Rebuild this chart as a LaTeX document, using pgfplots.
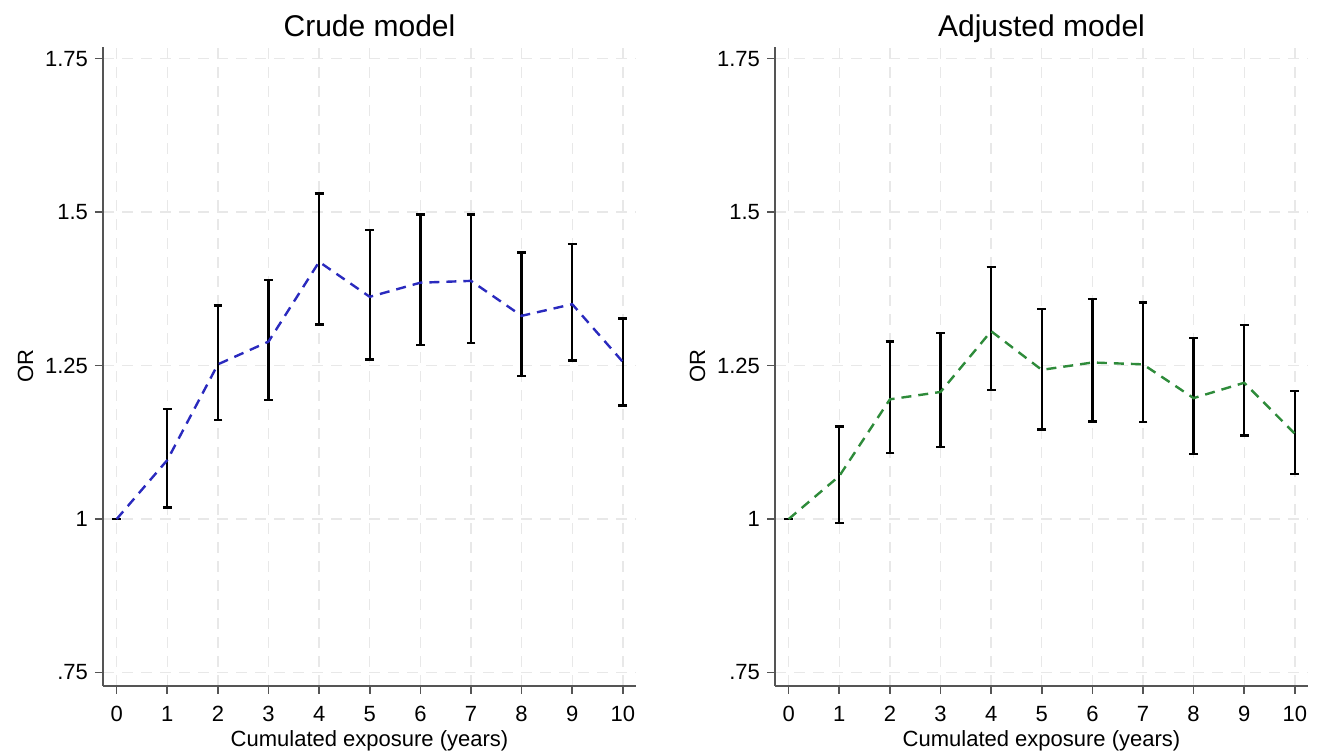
\documentclass[border=0pt]{standalone}
\usepackage{fontspec}
\setmainfont{Liberation Sans}
\usepackage{pgfplots}
\usepackage{pgfplotstable}
\pgfplotsset{compat=1.18}

% odds ratios with 95% CI
\pgfplotstableread{
x  y     lo    hi
0  1.000 1.000 1.000
1  1.096 1.019 1.179
2  1.252 1.161 1.348
3  1.289 1.194 1.389
4  1.419 1.317 1.530
5  1.362 1.260 1.471
6  1.385 1.284 1.496
7  1.388 1.287 1.496
8  1.331 1.233 1.434
9  1.350 1.258 1.448
10 1.256 1.185 1.327
}\crude

\pgfplotstableread{
x  y     lo    hi
0  1.000 1.000 1.000
1  1.070 0.994 1.151
2  1.195 1.108 1.289
3  1.207 1.117 1.303
4  1.306 1.210 1.411
5  1.243 1.146 1.342
6  1.255 1.159 1.358
7  1.252 1.158 1.353
8  1.197 1.106 1.295
9  1.222 1.136 1.316
10 1.139 1.073 1.209
}\adjusted

\definecolor{spine}{HTML}{555555}
\definecolor{crudeblue}{HTML}{2A2ABE}
\definecolor{adjgreen}{HTML}{2E8B3A}

\pgfplotsset{
  orpanel/.style={
    scale only axis, width=266.5pt, height=319.5pt,
    anchor=south west,
    xmin=-0.27, xmax=10.26, ymin=0.728, ymax=1.769,
    axis x line*=bottom, axis y line*=left,
    axis line style={spine, line width=0.8pt},
    xtick={0,...,10},
    ytick={0.75,1,1.25,1.5,1.75},
    yticklabels={.75,1,1.25,1.5,1.75},
    tick align=outside, major tick length=4pt,
    tick style={spine, line width=0.8pt},
    /pgf/number format/assume math mode=true,
    ticklabel style={font=\fontsize{11}{13}\selectfont},
    xticklabel style={anchor=base, yshift=-14pt},
    label style={font=\fontsize{11}{13}\selectfont},
    title style={font=\fontsize{15}{18}\selectfont, text depth=0pt, yshift=-4.5pt},
    xlabel={Cumulated exposure (years)},
    ylabel={OR},
    xlabel style={at={(axis description cs:0.5,0)}, anchor=base, yshift=-30.5pt},
    ylabel style={yshift=-1pt},
    grid=major,
    grid style={gray!18, line width=0.7pt, dash pattern=on 5.5pt off 4pt},
    clip=false,
  },
  cibars/.style={
    draw=none, mark=none, forget plot,
    error bars/.cd, y dir=both, y explicit,
    error bar style={solid, black, line width=1.2pt},
    error mark options={black, line width=1.2pt, mark size=2.2pt, rotate=90},
  },
}

\begin{document}
\begin{tikzpicture}
\useasboundingbox (0,0) rectangle (659pt,377pt);

\begin{axis}[orpanel, at={(51.5pt,34pt)}, title={Crude model}]
  \addplot[cibars] table[x=x, y=y,
    y error plus expr=\thisrow{hi}-\thisrow{y},
    y error minus expr=\thisrow{y}-\thisrow{lo}] {\crude};
  \addplot[crudeblue, line width=1.2pt, dash pattern=on 5pt off 3.5pt, mark=none] table[x=x, y=y] {\crude};
\end{axis}

\begin{axis}[orpanel, at={(387.5pt,34pt)}, title={Adjusted model}]
  \addplot[cibars] table[x=x, y=y,
    y error plus expr=\thisrow{hi}-\thisrow{y},
    y error minus expr=\thisrow{y}-\thisrow{lo}] {\adjusted};
  \addplot[adjgreen, line width=1.2pt, dash pattern=on 5pt off 3.5pt, mark=none] table[x=x, y=y] {\adjusted};
\end{axis}
\end{tikzpicture}
\end{document}
